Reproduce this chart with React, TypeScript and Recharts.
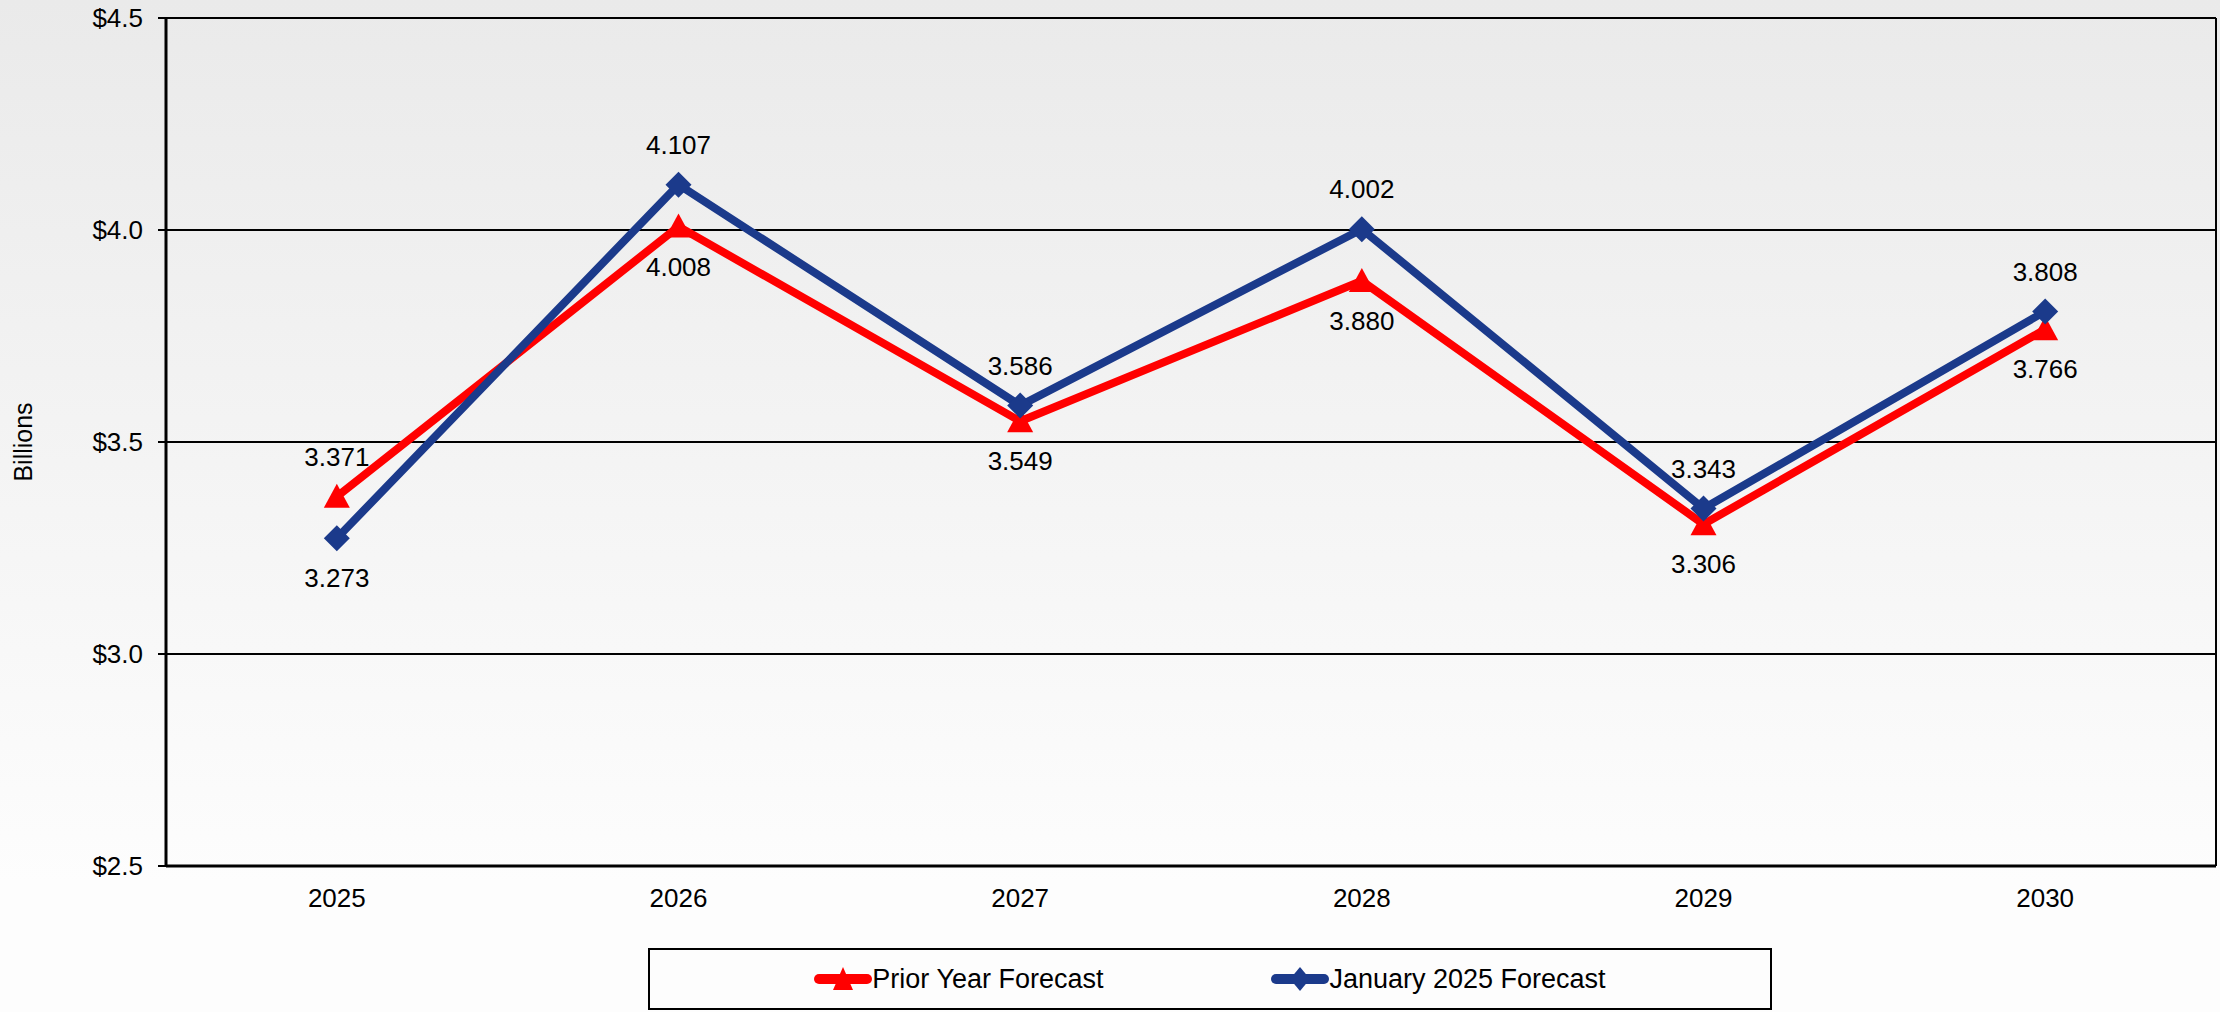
import React from 'react';
import {
  LineChart,
  Line,
  XAxis,
  YAxis,
  CartesianGrid,
  Legend,
  LabelList,
} from 'recharts';

const years = ['2025', '2026', '2027', '2028', '2029', '2030'];
const priorYear = [3.371, 4.008, 3.549, 3.88, 3.306, 3.766];
const january2025 = [3.273, 4.107, 3.586, 4.002, 3.343, 3.808];
const yTicks = [2.5, 3.0, 3.5, 4.0, 4.5];

const RED = '#ff0000';
const BLUE = '#1b3a8b';
const FONT = '"Liberation Sans", Arial, Helvetica, sans-serif';

const chartData = years.map((year, i) => ({
  year,
  prior: priorYear[i],
  jan: january2025[i],
}));

const TriangleDot = (props: any) => {
  const { cx, cy } = props;
  if (cx == null || cy == null) return null;
  return (
    <path
      d={`M${cx},${cy - 13} L${cx + 13},${cy + 11} L${cx - 13},${cy + 11} Z`}
      fill={RED}
    />
  );
};

const DiamondDot = (props: any) => {
  const { cx, cy } = props;
  if (cx == null || cy == null) return null;
  return (
    <path
      d={`M${cx},${cy - 13} L${cx + 13},${cy} L${cx},${cy + 13} L${cx - 13},${cy} Z`}
      fill={BLUE}
    />
  );
};

// label goes above the point when this series is the higher one, below otherwise
const makeLabel = (own: number[], other: number[]) => (props: any) => {
  const { x, y, index, value } = props;
  const above = own[index] > other[index];
  const ty = above ? y - 40 : y + 40;
  return (
    <text
      x={x}
      y={ty}
      dy="0.35em"
      textAnchor="middle"
      fontSize={26}
      fontFamily={FONT}
      fill="#000"
    >
      {Number(value).toFixed(3)}
    </text>
  );
};

const YLabel = (props: any) => {
  const vb = props.viewBox || { x: 0, y: 0, height: 0 };
  const cx = vb.x + 23;
  const cy = vb.y + vb.height / 2;
  return (
    <text
      x={cx}
      y={cy}
      dy="0.35em"
      transform={`rotate(-90 ${cx} ${cy})`}
      textAnchor="middle"
      fontSize={25}
      fontFamily={FONT}
      fill="#000"
    >
      Billions
    </text>
  );
};

const LegendIcon = ({ color, shape }: { color: string; shape: 'tri' | 'dia' }) => (
  <svg width={58} height={26} style={{ display: 'block' }}>
    <line x1={5} y1={13} x2={53} y2={13} stroke={color} strokeWidth={10} strokeLinecap="round" />
    {shape === 'tri' ? (
      <path d="M29,1 L39,24 L19,24 Z" fill={color} />
    ) : (
      <path d="M29,1 L39,13 L29,25 L19,13 Z" fill={color} />
    )}
  </svg>
);

const renderLegend = () => (
  <div style={{ height: 66, paddingTop: 2, boxSizing: 'border-box' }}>
    <div
      style={{
        marginLeft: 648,
        width: 1124,
        height: 62,
        boxSizing: 'border-box',
        border: '2px solid #000',
        background: '#fdfdfd',
        display: 'flex',
        alignItems: 'center',
        justifyContent: 'center',
        fontFamily: FONT,
        fontSize: 27,
        color: '#000',
      }}
    >
      <div style={{ display: 'flex', alignItems: 'center', marginRight: 168 }}>
        <LegendIcon color={RED} shape="tri" />
        <span>Prior Year Forecast</span>
      </div>
      <div style={{ display: 'flex', alignItems: 'center' }}>
        <LegendIcon color={BLUE} shape="dia" />
        <span>January 2025 Forecast</span>
      </div>
    </div>
  </div>
);

export default function App() {
  return (
    <div
      style={{
        position: 'absolute',
        left: 0,
        top: 0,
        width: 2220,
        height: 1012,
        background: 'linear-gradient(to bottom, #eaeaea 0px, #fdfdfd 882px, #fdfdfd 1012px)',
        fontFamily: FONT,
      }}
    >
      <LineChart
        width={2220}
        height={1012}
        data={chartData}
        margin={{ top: 18, right: 0, bottom: 0, left: 0 }}
      >
        <CartesianGrid vertical={false} stroke="#000" strokeWidth={2} />
        <XAxis
          dataKey="year"
          scale="band"
          height={80}
          axisLine={{ stroke: '#000', strokeWidth: 3 }}
          tickLine={false}
          tickSize={0}
          tickMargin={23}
          tick={{ fill: '#000', fontSize: 26, fontFamily: FONT }}
        />
        <YAxis
          domain={[2.5, 4.5]}
          ticks={yTicks}
          width={166}
          tickSize={8}
          tickMargin={15}
          axisLine={{ stroke: '#000', strokeWidth: 3 }}
          tickLine={{ stroke: '#000', strokeWidth: 2 }}
          tick={{ fill: '#000', fontSize: 26, fontFamily: FONT }}
          tickFormatter={(v: number) => `$${v.toFixed(1)}`}
          label={YLabel}
        />
        <YAxis
          yAxisId="right"
          orientation="right"
          domain={[2.5, 4.5]}
          width={4}
          tick={false}
          tickLine={false}
          axisLine={{ stroke: '#000', strokeWidth: 2 }}
        />
        <Legend verticalAlign="bottom" content={renderLegend} />
        <Line
          type="linear"
          dataKey="prior"
          name="Prior Year Forecast"
          stroke={RED}
          strokeWidth={8}
          dot={<TriangleDot />}
          activeDot={false}
          isAnimationActive={false}
        >
          <LabelList dataKey="prior" content={makeLabel(priorYear, january2025)} />
        </Line>
        <Line
          type="linear"
          dataKey="jan"
          name="January 2025 Forecast"
          stroke={BLUE}
          strokeWidth={8}
          dot={<DiamondDot />}
          activeDot={false}
          isAnimationActive={false}
        >
          <LabelList dataKey="jan" content={makeLabel(january2025, priorYear)} />
        </Line>
      </LineChart>
    </div>
  );
}
